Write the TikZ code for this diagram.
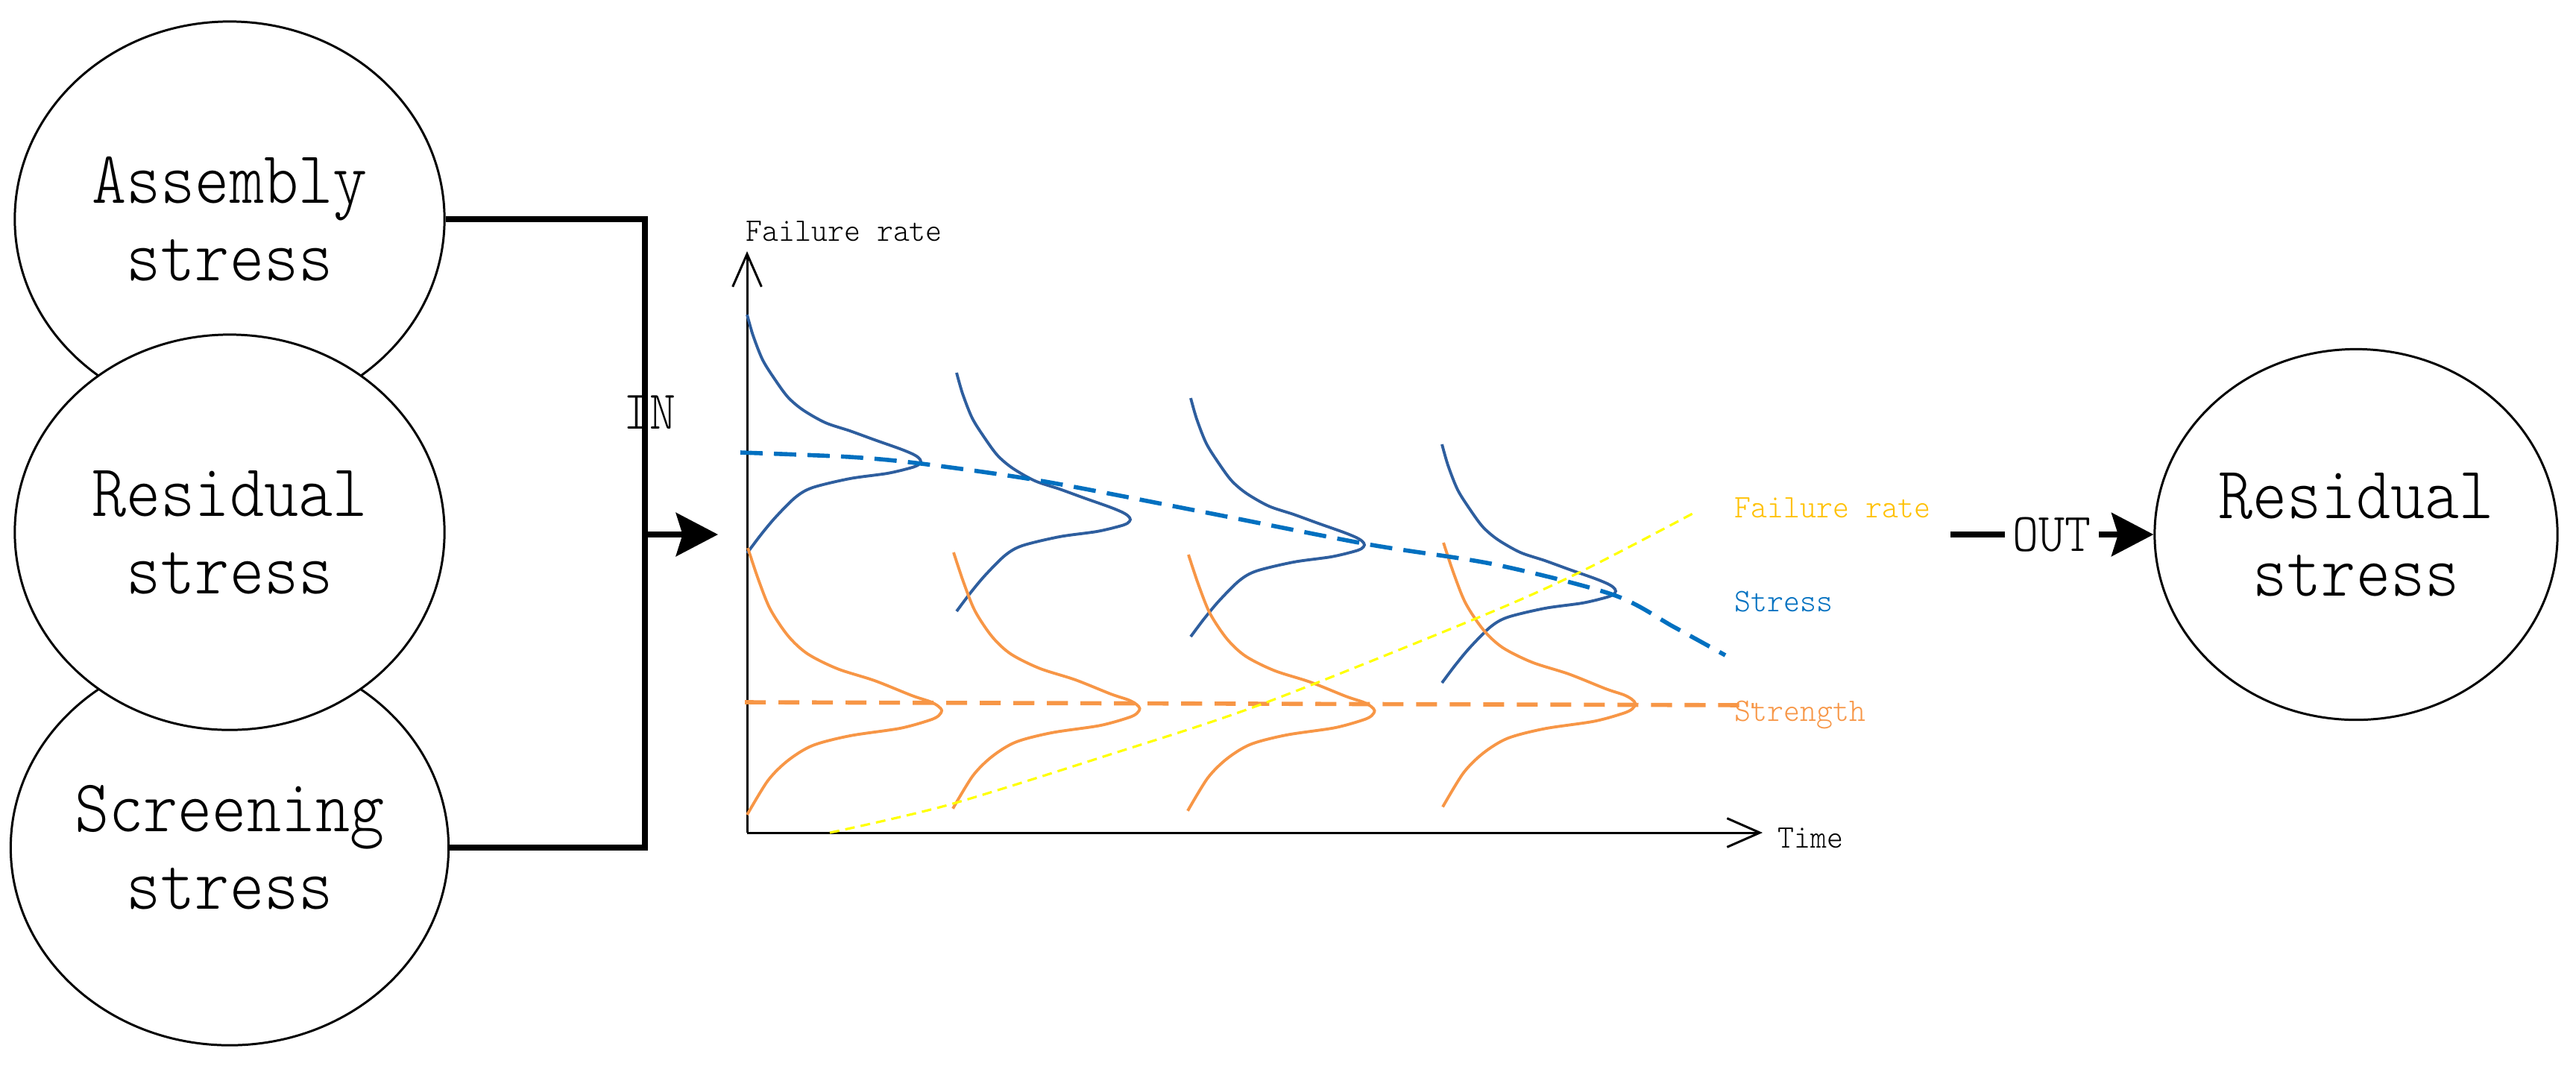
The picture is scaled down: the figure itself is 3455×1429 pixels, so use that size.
\documentclass[tikz,border=0pt]{standalone}
\usepackage{fontspec}
\usetikzlibrary{arrows.meta,shapes.geometric}
\newfontfamily\fbig[FakeStretch=0.88]{lmmonolt10-regular.otf}
\newfontfamily\fmid[FakeStretch=0.91]{lmmonolt10-regular.otf}
\newfontfamily\fsmall[FakeStretch=0.95]{lmmonolt10-regular.otf}
\newcommand\bigtext{\fbig\fontsize{28.4pt}{29.5pt}\selectfont}
\newcommand\midtext{\fmid\fontsize{20.8pt}{22pt}\selectfont}
\newcommand\smalltext{\fsmall\fontsize{12.5pt}{14pt}\selectfont}
\definecolor{distblue}{RGB}{46,94,158}
\definecolor{stressblue}{RGB}{0,112,192}
\definecolor{strengthor}{RGB}{247,150,70}
\definecolor{frgold}{RGB}{255,192,0}
\definecolor{fryellow}{RGB}{255,255,0}
\begin{document}
\begin{tikzpicture}[x=0.01cm,y=-0.01cm,
  stressell/.style={draw, ellipse, line width=0.85pt, inner sep=0pt,
    minimum width=5.76cm, minimum height=5.30cm, align=center,
    font=\bigtext, fill=white},
  outell/.style={draw, ellipse, line width=0.85pt, inner sep=0pt,
    minimum width=5.40cm, minimum height=4.97cm, align=center,
    font=\bigtext, fill=white},
  conn/.style={line width=2.2pt},
  bigarrow/.style={line width=2.2pt, -{Stealth[length=16pt,width=16.5pt,inset=2.5pt]}},
  axis/.style={line width=0.85pt, -{Straight Barb[length=12.5pt,width=11pt]}},
  distb/.style={draw=distblue, line width=1.1pt},
  disto/.style={draw=strengthor, line width=1.1pt},
  stressdash/.style={draw=stressblue, line width=1.6pt, dash pattern=on 8.5pt off 4.3pt},
  strengthdash/.style={draw=strengthor, line width=1.6pt, dash pattern=on 8pt off 4.8pt},
  frdash/.style={draw=fryellow, line width=0.9pt, dash pattern=on 3.7pt off 2.3pt},
  lbl/.style={inner sep=0pt, anchor=base west, font=\smalltext}]
\useasboundingbox (0,0) rectangle (3455,1429);

% left ellipses
\node[stressell] (asm) at (308,294) {Assembly\\stress};
\node[stressell] (scr) at (308,1137) {Screening\\stress};
\node[stressell] (res) at (308,714) {Residual\\stress};

% bus and IN arrow
\coordinate (busb) at (865,1137);
\coordinate (inj) at (865,717);
\coordinate (inend) at (963,717);
\draw[conn] (asm.east) -| (busb) -- (scr.east);
\draw[bigarrow] (inj) -- (inend);
\node[inner sep=0pt, anchor=base, font=\midtext] (inlbl) at (871,575) {IN};

% axes
\coordinate (O) at (1002,1117);
\coordinate (ytip) at (1002,337);
\coordinate (xtip) at (2364,1117);
\draw[axis] (O) -- (ytip);
\draw[axis] (O) -- (xtip);
\node[lbl] (ylbl) at (1000,323) {Failure rate};
\node[lbl] (xlbl) at (2384,1137) {Time};

% stress distributions
\foreach \px/\py/\sy in {1002/422/1.0, 1283/500/1.0, 1597/534/1.0, 1934/596/1.0}{
  \draw[distb, shift={(\px,\py)}, yscale=\sy] plot[smooth, tension=0.5] coordinates {
    (0,0) (8,28) (21,61) (38,88) (55,111) (75,128) (105,145) (138,156) (171,168)
    (205,180) (222,187) (230,192) (233,197) (229,202) (218,206) (188,213) (138,220)
    (88,232) (65,245) (38,272) (18,296) (0,320)};
}
% strength distributions
\foreach \px/\py/\sx/\sy in {1002/735/1.0/1.0, 1278/741/0.96/0.96, 1593/744/0.96/0.96, 1935/728/0.99/0.99}{
  \draw[disto, shift={(\px,\py)}, xscale=\sx, yscale=\sy] plot[smooth, tension=0.5] coordinates {
    (1,0) (15,42) (31,82) (55,118) (81,142) (121,162) (171,178) (221,198) (245,206)
    (256,212) (261,218) (257,225) (245,231) (205,242) (138,252) (88,265) (55,285)
    (28,312) (0,358)};
}

% trend lines
\draw[stressdash] plot[smooth] coordinates {(993,607) (1140,613) (1236,622) (1396,645)
  (1615,687) (1834,730) (2004,757) (2164,798) (2245,841) (2314,879)};
\draw[strengthdash] (999,942) -- (2352,946);
\draw[frdash] plot[smooth] coordinates {(1113,1117) (1271,1080) (1486,1013) (1691,945)
  (1986,827) (2120,767) (2270,689)};

% legend labels
\node[lbl, text=frgold] (lfr) at (2326,694) {Failure rate};
\node[lbl, text=stressblue] (lst) at (2326,820) {Stress};
\node[lbl, text=strengthor] (lsg) at (2326,967) {Strength};

% output
\node[outell] (out) at (3160,717) {Residual\\stress};
\coordinate (outstart) at (2616,717);
\draw[bigarrow] (outstart) -- node[fill=white, inner xsep=3pt, inner ysep=0pt, font=\midtext] (outlbl) {OUT} (out.west);
\end{tikzpicture}
\end{document}
